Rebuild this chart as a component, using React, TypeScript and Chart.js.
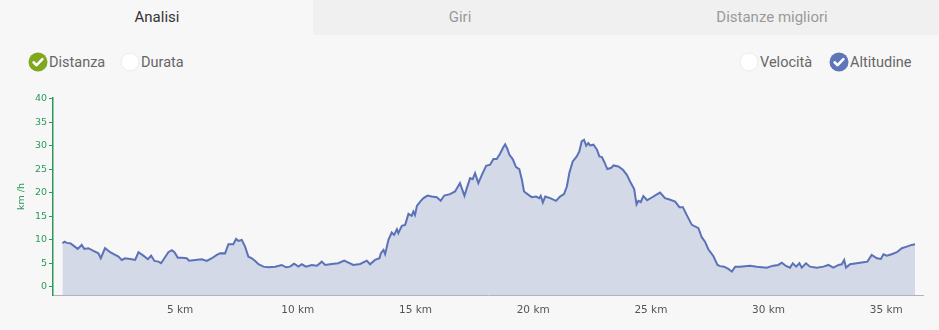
import React, { useEffect, useRef } from "react";
import { Chart, registerables } from "chart.js";

Chart.register(...registerables);

// Distance (km) along the track
const distanceKm: number[] = [
  0, 0.09, 0.19, 0.33, 0.47, 0.65, 0.82, 0.93, 1.1, 1.32, 1.53, 1.63, 1.81, 2.03, 2.24, 2.38, 2.52, 2.66, 2.95, 3.09,
  3.23, 3.44, 3.63, 3.77, 3.91, 4.08, 4.19, 4.33, 4.5, 4.65, 4.76, 4.9, 5.07, 5.28, 5.38, 5.64, 5.92, 6.13, 6.35, 6.56,
  6.7, 6.91, 7.05, 7.26, 7.38, 7.48, 7.62, 7.76, 7.9, 8.05, 8.19, 8.33, 8.54, 8.75, 9.04, 9.32, 9.5, 9.67, 9.84, 10.03,
  10.17, 10.35, 10.59, 10.81, 11.02, 11.16, 11.44, 11.72, 11.97, 12.15, 12.36, 12.65, 12.93, 13.07, 13.28, 13.47, 13.53, 13.64, 13.71, 13.85,
  13.99, 14.09, 14.21, 14.27, 14.42, 14.56, 14.7, 14.84, 14.91, 14.98, 15.06, 15.2, 15.34, 15.51, 15.69, 15.9, 16.07, 16.22, 16.47, 16.68,
  16.89, 17.08, 17.18, 17.32, 17.43, 17.53, 17.67, 17.82, 18.0, 18.17, 18.31, 18.45, 18.59, 18.73, 18.81, 18.9, 18.99, 19.13, 19.27, 19.41,
  19.52, 19.61, 19.8, 19.94, 20.12, 20.26, 20.32, 20.41, 20.51, 20.72, 20.97, 21.14, 21.31, 21.43, 21.54, 21.68, 21.85, 21.96, 22.06, 22.16,
  22.25, 22.34, 22.42, 22.56, 22.71, 22.81, 22.92, 23.01, 23.15, 23.3, 23.41, 23.62, 23.81, 23.98, 24.15, 24.29, 24.39, 24.47, 24.57, 24.68,
  24.84, 25.04, 25.22, 25.39, 25.6, 25.82, 26.03, 26.21, 26.36, 26.52, 26.74, 27.02, 27.16, 27.3, 27.44, 27.65, 27.83, 27.94, 28.11, 28.29,
  28.44, 28.58, 28.79, 29.21, 29.5, 29.92, 30.2, 30.41, 30.56, 30.74, 30.91, 31.03, 31.17, 31.31, 31.41, 31.59, 31.76, 32.05, 32.33, 32.54,
  32.75, 32.97, 33.11, 33.21, 33.29, 33.46, 33.75, 34.03, 34.2, 34.38, 34.6, 34.77, 34.88, 35.02, 35.23, 35.45, 35.66, 35.87, 36.08, 36.22,
];

// Plotted values (axis labelled km/h)
const values: number[] = [
  9.26, 9.6, 9.33, 9.26, 8.75, 8.05, 8.9, 8.05, 8.2, 7.62, 7.13, 6.06, 8.2, 7.34, 6.77, 6.4, 5.7, 6.06, 5.85, 5.7,
  7.34, 6.62, 5.85, 6.62, 5.49, 5.34, 5.0, 6.06, 7.34, 7.77, 7.34, 6.19, 6.19, 6.06, 5.55, 5.7, 5.85, 5.49, 6.06, 6.77,
  7.13, 7.1, 9.05, 9.05, 10.18, 9.75, 9.97, 8.54, 6.4, 6.06, 5.49, 4.78, 4.27, 4.14, 4.27, 4.63, 4.14, 4.27, 4.91, 4.27,
  4.78, 4.27, 4.63, 4.48, 5.34, 4.63, 4.85, 4.99, 5.55, 5.12, 4.63, 4.85, 5.55, 4.78, 5.7, 6.06, 7.13, 7.83, 6.92, 9.97,
  11.53, 11.04, 12.25, 11.4, 12.96, 13.17, 15.52, 15.09, 16.01, 15.3, 17.23, 18.14, 18.87, 19.42, 19.21, 19.08, 18.29, 19.42, 19.72, 20.28,
  22.07, 19.36, 21.0, 23.14, 22.92, 24.2, 22.07, 23.84, 25.76, 25.98, 27.19, 27.19, 28.32, 29.7, 30.35, 29.39, 28.11, 27.19, 25.49, 25.06,
  22.77, 20.28, 19.57, 19.08, 19.21, 18.87, 19.36, 17.93, 19.21, 18.87, 18.29, 19.21, 19.72, 21.34, 24.33, 26.68, 27.75, 28.82, 30.95, 31.31,
  30.03, 30.61, 30.1, 30.25, 29.18, 27.75, 27.62, 26.68, 25.06, 25.27, 25.83, 25.61, 24.91, 23.84, 22.07, 20.79, 17.55, 18.29, 18.04, 19.3,
  18.44, 19.0, 19.57, 20.06, 18.87, 18.51, 18.14, 16.95, 16.95, 15.3, 13.17, 12.47, 10.54, 9.6, 7.98, 6.55, 4.63, 4.38, 4.27, 3.78,
  3.2, 4.27, 4.27, 4.48, 4.27, 4.06, 4.48, 4.63, 5.12, 4.42, 4.06, 4.99, 4.27, 4.99, 4.06, 4.99, 4.27, 4.06, 4.27, 4.63,
  4.06, 4.63, 4.78, 5.7, 4.06, 4.78, 4.99, 5.21, 5.34, 6.77, 6.06, 5.91, 6.92, 6.62, 6.92, 7.34, 8.2, 8.54, 8.9, 9.05,
];

const xTickValues: number[] = [5, 10, 15, 20, 25, 30, 35];
const yTickValues: number[] = [0, 5, 10, 15, 20, 25, 30, 35, 40];
const tabLabels: string[] = ["Analisi", "Giri", "Distanze migliori"];
const yAxisTitle = "km /h";

const GREEN = "#2a9a5a";
const FONT = "Roboto, 'Noto Sans', sans-serif";

function CheckCircle({ color, checked }: { color: string; checked: boolean }) {
  return (
    <svg width="20" height="20" viewBox="0 0 20 20" style={{ display: "block" }}>
      {checked ? (
        <>
          <circle cx="10" cy="10" r="9.5" fill={color} />
          <path d="M5.6 10.3 L8.6 13.2 L14.4 7.2" stroke="#fff" strokeWidth="2.6" fill="none" strokeLinecap="round" strokeLinejoin="round" />
        </>
      ) : (
        <circle cx="10" cy="10" r="9" fill="#ffffff" stroke="#ececec" strokeWidth="1" />
      )}
    </svg>
  );
}

function LegendItem({ x, label, color, checked }: { x: number; label: string; color: string; checked: boolean }) {
  return (
    <div style={{ position: "absolute", left: x, top: 52, height: 20, display: "flex", alignItems: "center" }}>
      <CheckCircle color={color} checked={checked} />
      <span style={{ marginLeft: 1, fontFamily: FONT, fontSize: 14.5, color: "#666" }}>{label}</span>
    </div>
  );
}

const tabCenters = [157, 460, 772];

export default function App() {
  const canvasRef = useRef<HTMLCanvasElement | null>(null);

  useEffect(() => {
    document.body.style.margin = "0";
    const canvas = canvasRef.current;
    if (!canvas) return;
    const points = distanceKm.map((d, i) => ({ x: d, y: values[i] }));
    const chart = new Chart(canvas, {
      type: "line",
      data: {
        datasets: [
          {
            data: points,
            borderColor: "#5b72b8",
            backgroundColor: "#d3d9e6",
            borderWidth: 2,
            pointRadius: 0,
            tension: 0,
            fill: "start",
          },
        ],
      },
      options: {
        animation: false,
        responsive: false,
        devicePixelRatio: 1,
        layout: { padding: { top: 13, right: 16, left: 0, bottom: 0 } },
        plugins: { legend: { display: false }, tooltip: { enabled: false } },
        scales: {
          x: {
            type: "linear",
            min: -0.4,
            max: 36.56,
            grid: { display: false, drawTicks: false },
            border: { display: true, color: "#b3b3b3", width: 1 },
            afterBuildTicks: (scale: any) => {
              scale.ticks = xTickValues.map((v) => ({ value: v }));
            },
            afterFit: (scale: any) => {
              scale.height = 35;
            },
            ticks: {
              padding: 9,
              color: "#555",
              font: { family: "'DejaVu Sans', Verdana, sans-serif", size: 10.5 },
              maxRotation: 0,
              autoSkip: false,
              callback: (v: any) => `${v} km`,
            },
          },
          y: {
            type: "linear",
            min: -1.77,
            max: 40.2,
            grid: { display: true, drawOnChartArea: false, drawTicks: true, tickLength: 4, color: GREEN },
            border: { display: true, color: GREEN, width: 1.5 },
            afterBuildTicks: (scale: any) => {
              scale.ticks = yTickValues.map((v) => ({ value: v }));
            },
            afterFit: (scale: any) => {
              scale.width = 53;
            },
            title: {
              display: true,
              text: yAxisTitle,
              color: GREEN,
              font: { family: "'DejaVu Sans', Verdana, sans-serif", size: 9.5 },
              padding: { top: 16, bottom: 0 },
            },
            ticks: {
              padding: 2,
              color: GREEN,
              font: { family: "'DejaVu Sans', Verdana, sans-serif", size: 9.5 },
              callback: (v: any) => String(v),
            },
          },
        },
      },
    });
    return () => chart.destroy();
  }, []);

  return (
    <div style={{ position: "relative", width: 939, height: 330, background: "#f7f7f7", overflow: "hidden" }}>
      <div style={{ position: "absolute", left: 313, top: 0, width: 626, height: 35, background: "#f0f0f0" }} />
      {tabLabels.map((t, i) => (
        <div
          key={t}
          style={{
            position: "absolute",
            left: tabCenters[i] - 150,
            top: 0,
            width: 300,
            height: 35,
            color: i === 0 ? "#333" : "#9a9a9a",
            fontFamily: FONT,
            fontSize: 15,
            lineHeight: "35px",
            textAlign: "center",
          }}
        >
          {t}
        </div>
      ))}
      <LegendItem x={28} label="Distanza" color="#7fa81d" checked={true} />
      <LegendItem x={120} label="Durata" color="#fff" checked={false} />
      <LegendItem x={739} label="Velocità" color="#fff" checked={false} />
      <LegendItem x={829} label="Altitudine" color="#5f75b9" checked={true} />
      <canvas ref={canvasRef} width={939} height={245} style={{ position: "absolute", left: 0, top: 85, width: 939, height: 245 }} />
    </div>
  );
}
